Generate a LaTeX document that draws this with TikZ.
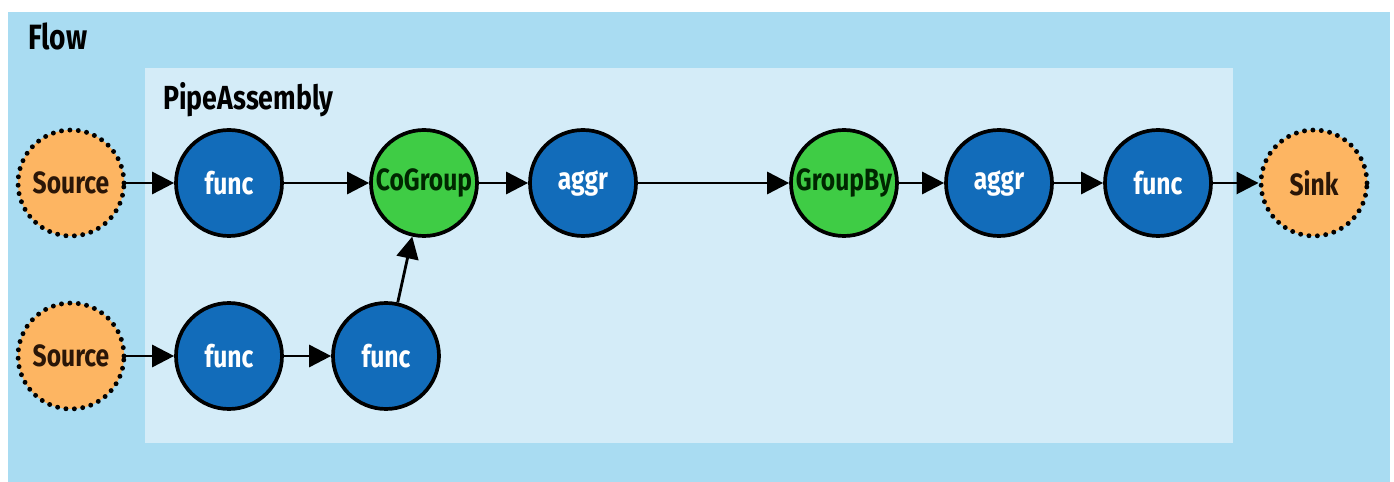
\documentclass[tikz,border=0pt]{standalone}
\usepackage{fontspec}
\setmainfont{Fira Sans}[FakeStretch=0.8]
\usetikzlibrary{arrows.meta}
\definecolor{flowbg}{HTML}{A9DCF2}
\definecolor{pipebg}{HTML}{D4ECF8}
\definecolor{tapfill}{HTML}{FDB562}
\definecolor{funcfill}{HTML}{126CBA}
\definecolor{groupfill}{HTML}{3FCC45}
\definecolor{tapink}{HTML}{2A1608}
\tikzset{
  pipe/.style={circle, draw=black, line width=2.1pt, minimum size=2.12cm,
    inner sep=0pt, font=\fontsize{17.5}{19}\selectfont\bfseries},
  funcnode/.style={pipe, fill=funcfill, text=white},
  groupnode/.style={pipe, fill=groupfill, text=black!85!green},
  tapnode/.style={pipe, fill=tapfill, text=tapink, line width=2.8pt,
    dash pattern=on 0pt off 4.8pt, line cap=round},
  flowarrow/.style={line width=1.6pt,
    -{Triangle[length=0.44cm,width=0.44cm]}}
}
\begin{document}
\begin{tikzpicture}
  \useasboundingbox (0,0) rectangle (27.88,9.64);
  % --- Flow and pipe assembly frames ---
  \fill[white] (0,0) rectangle (27.88,9.64);
  \fill[flowbg] (0.16,0) rectangle (27.80,9.40);
  \fill[pipebg] (2.90,0.78) rectangle (24.66,8.28);
  \node[anchor=base west, inner sep=0pt, font=\fontsize{20}{22}\selectfont\bfseries]
    (flowlbl) at (0.56,8.64) {Flow};
  \node[anchor=base west, inner sep=0pt, font=\fontsize{19}{21}\selectfont\bfseries]
    (pipelbl) at (3.26,7.44) {PipeAssembly};
  % --- Upper branch ---
  \node[tapnode]   (src1) at (1.42,5.98)  {Source};
  \node[funcnode]  (f1)   at (4.58,5.98)  {func};
  \node[groupnode] (cg)   at (8.48,5.98)  {CoGroup};
  \node[funcnode]  (ag1)  at (11.66,5.98) {aggr};
  \node[groupnode] (gb)   at (16.88,5.98) {GroupBy};
  \node[funcnode]  (ag2)  at (19.98,5.98) {aggr};
  \node[funcnode]  (f4)   at (23.16,5.98) {func};
  \node[tapnode]   (snk)  at (26.28,5.98) {Sink};
  % --- Lower branch ---
  \node[tapnode]   (src2) at (1.42,2.52)  {Source};
  \node[funcnode]  (f2)   at (4.58,2.52)  {func};
  \node[funcnode]  (f3)   at (7.72,2.52)  {func};
  % --- Connectors ---
  \foreach \a/\b in {src1/f1, f1/cg, cg/ag1, ag1/gb, gb/ag2, ag2/f4, f4/snk,
                     src2/f2, f2/f3, f3/cg} {
    \draw[flowarrow] (\a) -- (\b);
  }
\end{tikzpicture}
\end{document}
